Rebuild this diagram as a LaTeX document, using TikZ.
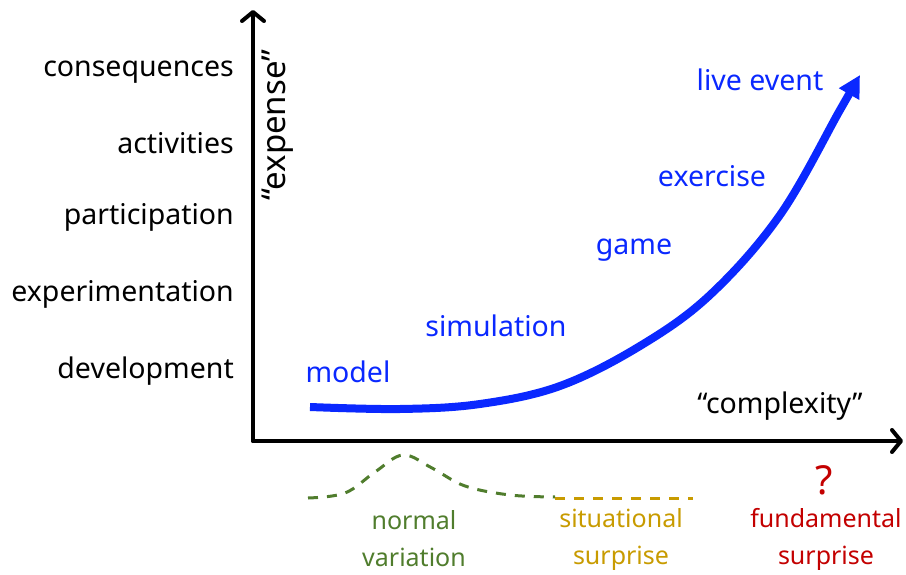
\documentclass[tikz,border=0pt]{standalone}
\usepackage{fontspec}
\setmainfont{Noto Sans}
\usetikzlibrary{arrows.meta}
\definecolor{curveblue}{RGB}{10,40,255}
\definecolor{normgreen}{RGB}{80,125,45}
\definecolor{sitgold}{RGB}{200,155,0}
\definecolor{fundred}{RGB}{195,0,0}
\tikzset{
  axis/.style={line width=4pt, line cap=round, -{Straight Barb[length=9pt,width=22pt,line width=4pt,round]}},
  lbl/.style={font=\fontsize{28.5}{37}\selectfont, inner sep=0pt},
  ylbl/.style={lbl, anchor=east},
  stage/.style={lbl, text=curveblue},
  outcome/.style={lbl, align=center, font=\fontsize{25}{37}\selectfont},
  variation/.style={line width=3pt, dash pattern=on 10pt off 9pt},
}
\begin{document}
\begin{tikzpicture}[x=1pt,y=-1pt]
\useasboundingbox (0,0) rectangle (906,575);

% axes
\coordinate (O) at (253,441);
\coordinate (ytop) at (253,10);
\coordinate (xend) at (903,441);
\draw[axis] (O) -- (ytop);
\draw[axis] (O) -- (xend);

% axis titles
\node[lbl, rotate=90, font=\fontsize{33}{37}\selectfont] (expense) at (278,125) {“expense”};
\node[lbl] (complexity) at (780,406) {“complexity”};

% levels of expense
\node[ylbl] (conseq) at (234,72) {consequences};
\node[ylbl] (activ) at (234,143) {activities};
\node[ylbl] (partic) at (234,217) {participation};
\node[ylbl] (experim) at (234,294) {experimentation};
\node[ylbl] (devel) at (234,371) {development};

% growth curve
\draw[curveblue, line width=8pt, -{Triangle[length=22pt,width=22pt]}]
  plot[smooth, tension=0.6] coordinates {(310,407) (400,409) (480,404) (560,386) (640,346) (710,295) (780,215) (840,110) (860,75)};

% stages along the curve
\node[stage] (model) at (348,372) {model};
\node[stage] (simulation) at (496,326) {simulation};
\node[stage] (game) at (634,250) {game};
\node[stage] (exercise) at (712,176) {exercise};
\node[stage] (live) at (760,80) {live event};

% kinds of variation
\draw[variation, normgreen]
  plot[smooth, tension=0.6] coordinates {(308,498) (345,493) (375,472) (403,455) (432,468) (465,486) (510,495) (555,497)};
\draw[variation, sitgold] (555,498) -- (693,498);

\node[outcome, text=normgreen] (normal) at (414,539) {normal\\variation};
\node[outcome, text=sitgold] (situational) at (621,539) {situational\\surprise};
\node[lbl, text=fundred, font=\fontsize{40}{44}\selectfont] (question) at (824,480) {?};
\node[outcome, text=fundred] (fundamental) at (826,539) {fundamental\\surprise};
\end{tikzpicture}
\end{document}
